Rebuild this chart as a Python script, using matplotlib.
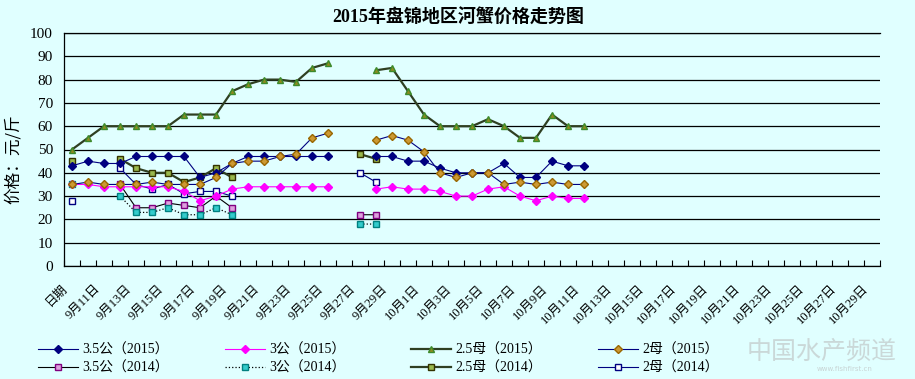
import numpy as np
import matplotlib
matplotlib.use('Agg')
import matplotlib.pyplot as plt
from matplotlib.transforms import ScaledTranslation
from matplotlib.font_manager import FontProperties


# DATA
# -----------
nan = np.nan

# categories: header cell then one per day (9/10 .. 10/29)
dates = ['日期'] + ['9月%d日' % d for d in range(10, 31)] + ['10月%d日' % d for d in range(1, 30)]

# 2015 prices (yuan/jin)
gong35_2015 = [43, 45, 44, 44, 47, 47, 47, 47, 38, 40, 44, 47, 47, 47, 47, 47, 47, nan, nan,
               47, 47, 45, 45, 42, 40, 40, 40, 44, 38, 38, 45, 43, 43]
gong3_2015 = [35, 35, 34, 34, 34, 34, 34, 32, 28, 30, 33, 34, 34, 34, 34, 34, 34, nan, nan,
              33, 34, 33, 33, 32, 30, 30, 33, 34, 30, 28, 30, 29, 29]
mu25_2015 = [50, 55, 60, 60, 60, 60, 60, 65, 65, 65, 75, 78, 80, 80, 79, 85, 87, nan, nan,
             84, 85, 75, 65, 60, 60, 60, 63, 60, 55, 55, 65, 60, 60]
mu2_2015 = [35, 36, 35, 35, 35, 36, 35, 35, 35, 38, 44, 45, 45, 47, 48, 55, 57, nan, nan,
            54, 56, 54, 49, 40, 38, 40, 40, 35, 36, 35, 36, 35, 35]

# 2014 prices
gong35_2014 = [nan, nan, nan, 35, 25, 25, 27, 26, 25, 30, 25, nan, nan, nan, nan, nan, nan, nan,
               22, 22]
gong3_2014 = [35, nan, nan, 30, 23, 23, 25, 22, 22, 25, 22, nan, nan, nan, nan, nan, nan, nan,
              18, 18]
mu25_2014 = [45, nan, nan, 46, 42, 40, 40, 36, 38, 42, 38, nan, nan, nan, nan, nan, nan, nan,
             48, 46]
mu2_2014 = [28, nan, nan, 42, 35, 33, 35, 31, 32, 32, 30, nan, nan, nan, nan, nan, nan, nan,
            40, 36]

names_2015 = ['3.5公（2015）', '3公（2015）', '2.5母（2015）', '2母（2015）']
names_2014 = ['3.5公（2014）', '3公（2014）', '2.5母（2014）', '2母（2014）']


def pad(vals, n):
    out = np.full(n, np.nan)
    out[:len(vals)] = vals
    return out


# STYLES
# -----------
BG = '#E0FFFF'
cjk = ['Liberation Serif', 'Noto Sans CJK SC']

styles_2015 = [
    dict(color='#000080', lw=0.8, marker='D', ms=3.8, mfc='#000080', mec='#000080'),
    dict(color='#FF00FF', lw=0.8, marker='D', ms=3.8, mfc='#FF00FF', mec='#FF00FF'),
    dict(color='#2F3F22', lw=1.6, marker='^', ms=5, mfc='#8F8A1F', mec='#3C8A2C'),
    dict(color='#000080', lw=0.8, marker='D', ms=4.2, mfc='#CC9933', mec='#996600'),
]
styles_2014 = [
    dict(color='black', lw=0.8, marker='s', ms=4.5, mfc='#DDA0DD', mec='#800080'),
    dict(color='black', lw=0.9, ls=':', marker='s', ms=4.5, mfc='#33CCCC', mec='#008080'),
    dict(color='#2F3F22', lw=1.6, marker='s', ms=4.5, mfc='#99B84C', mec='#333300'),
    dict(color='#000080', lw=0.8, marker='s', ms=4.5, mfc='white', mec='#000080'),
]

# FIGURE
# -----------
n = len(dates)
x = np.arange(n)

fig = plt.figure(figsize=(9.15, 3.79), dpi=100, facecolor=BG)
ax = fig.add_axes([64 / 915, 113 / 379, 816 / 915, 233 / 379], facecolor=BG)

series_2015 = [gong35_2015, gong3_2015, mu25_2015, mu2_2015]
series_2014 = [gong35_2014, gong3_2014, mu25_2014, mu2_2014]

h15 = []
for vals, st, name in zip(series_2015, styles_2015, names_2015):
    h, = ax.plot(x, pad(vals, n), label=name, zorder=4, **st)
    h15.append(h)
h14 = []
for vals, st, name in zip(series_2014, styles_2014, names_2014):
    h, = ax.plot(x, pad(vals, n), label=name, zorder=3, **st)
    h14.append(h)

ax.set_xlim(-0.5, n - 0.5)
ax.set_ylim(0, 100)
ax.set_yticks(np.arange(0, 101, 10))
ax.yaxis.grid(True, color='black', lw=0.9)
ax.set_axisbelow(True)

ax.spines['right'].set_visible(False)
for s in ['left', 'bottom', 'top']:
    ax.spines[s].set_linewidth(0.9)

# y tick labels
ax.tick_params(axis='y', length=0, pad=8)
for lab in ax.get_yticklabels():
    lab.set_fontfamily('Liberation Serif')
    lab.set_fontsize(11)

# x ticks: marks at category boundaries, labels every other day
ax.set_xticks(np.arange(-0.5, n, 1), minor=True)
ax.set_xticks(x[::2])
ax.set_xticklabels(dates[::2])
ax.tick_params(axis='x', which='minor', direction='in', length=4, width=0.8)
ax.tick_params(axis='x', which='major', length=0, pad=15)
shift = ScaledTranslation(-0.06, 0, fig.dpi_scale_trans)
for lab in ax.get_xticklabels():
    lab.set_rotation(45)
    lab.set_ha('right')
    lab.set_va('center')
    lab.set_rotation_mode('anchor')
    lab.set_fontfamily(cjk)
    lab.set_fontsize(9)
    lab.set_transform(lab.get_transform() + shift)

# title and axis label
fig.text(458 / 915, 1 - 18 / 379, '2015年盘锦地区河蟹价格走势图', ha='center', va='center',
         fontsize=13, fontweight='bold', family=['Liberation Serif', 'Noto Sans CJK SC'])
fig.text(13 / 915, 1 - 159 / 379, '价格：元/斤', rotation=90, ha='center', va='center',
         fontsize=12, family=['Noto Sans CJK SC'])

# legend: one small legend per column, 2015 on top, 2014 below
prop = FontProperties(family=cjk, size=10)
for i, xs in enumerate([38, 225, 411, 598]):
    leg = fig.legend([h15[i], h14[i]], [names_2015[i], names_2014[i]], loc='center left',
                     bbox_to_anchor=(xs / 915, 1 - 359 / 379), frameon=False, prop=prop,
                     handlelength=2.9, handletextpad=0.3, labelspacing=0.35,
                     borderpad=0, borderaxespad=0)

# watermark
fig.text(822 / 915, 1 - 352 / 379, '中国水产频道', ha='center', va='center', fontsize=18,
         family=['Noto Sans CJK SC'], color='#C8D4D4', alpha=0.9)
fig.text(845 / 915, 1 - 369 / 379, 'www.fishfirst.cn', ha='center', va='center', fontsize=5,
         color='#C8D4D4')

fig.savefig('out.png', dpi=100, facecolor=BG)
